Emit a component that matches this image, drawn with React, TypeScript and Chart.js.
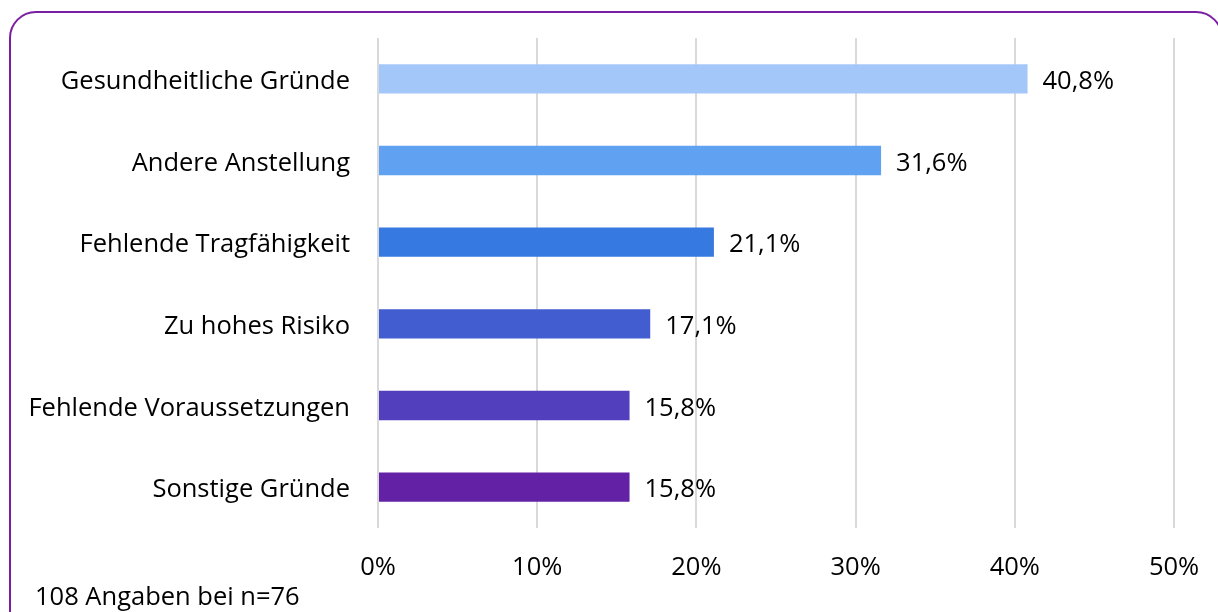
import React, { useEffect, useRef } from "react";
import { Chart, registerables } from "chart.js";

Chart.register(...registerables);

const categories = [
  "Gesundheitliche Gründe",
  "Andere Anstellung",
  "Fehlende Tragfähigkeit",
  "Zu hohes Risiko",
  "Fehlende Voraussetzungen",
  "Sonstige Gründe",
];
const values = [40.8, 31.6, 21.1, 17.1, 15.8, 15.8];
const barColors = ["#a4c7fa", "#60a1f2", "#3679e0", "#425dd0", "#523fbd", "#6322a6"];
const xTicks = [0, 10, 20, 30, 40, 50];
const footnote = "108 Angaben bei n=76";

const FONT = "'Open Sans', 'Noto Sans', sans-serif";
const FS = 25.5;

const decorPlugin = {
  id: "decor",
  beforeDraw(chart: any) {
    const ctx = chart.ctx;
    ctx.save();
    ctx.strokeStyle = "#7a1fa2";
    ctx.lineWidth = 2;
    ctx.beginPath();
    (ctx as any).roundRect(10, 12, 1212, 640, 26);
    ctx.stroke();
    ctx.restore();
  },
  afterDatasetsDraw(chart: any) {
    const ctx = chart.ctx;
    const meta = chart.getDatasetMeta(0);
    const yScale = chart.scales.y;
    ctx.save();
    ctx.font = `${FS}px ${FONT}`;
    ctx.fillStyle = "#000";
    ctx.textBaseline = "middle";
    meta.data.forEach((bar: any, i: number) => {
      const v = values[i];
      ctx.textAlign = "left";
      ctx.fillText(v.toFixed(1).replace(".", ",") + "%", bar.x + 15, bar.y + 3);
      ctx.textAlign = "right";
      ctx.fillText(categories[i], yScale.right - 28, yScale.getPixelForValue(i) + 3);
    });
    ctx.textAlign = "left";
    ctx.fillText(footnote, 35, 598);
    ctx.restore();
  },
};

export default function App() {
  const ref = useRef<HTMLCanvasElement>(null);
  useEffect(() => {
    if (!ref.current) return;
    const chart = new Chart(ref.current, {
      type: "bar",
      data: {
        labels: categories,
        datasets: [
          {
            data: values,
            backgroundColor: barColors,
            barPercentage: 0.36,
            categoryPercentage: 1,
          },
        ],
      },
      options: {
        indexAxis: "y",
        animation: false,
        responsive: false,
        maintainAspectRatio: false,
        layout: { padding: { top: 38, right: 44, bottom: 0, left: 0 } },
        plugins: { legend: { display: false }, tooltip: { enabled: false } },
        scales: {
          x: {
            min: 0,
            max: 50,
            afterBuildTicks(scale: any) {
              scale.ticks = xTicks.map((v) => ({ value: v }));
            },
            afterFit(scale: any) {
              scale.height = 84;
              scale.paddingLeft = 0;
              scale.paddingRight = 0;
            },
            ticks: {
              callback: (v: any) => v + "%",
              font: { family: FONT, size: FS },
              color: "#000",
              padding: 24,
              maxRotation: 0,
            },
            grid: { color: "#d9d9d9", lineWidth: 2, drawTicks: false },
            border: { display: false },
          },
          y: {
            afterFit(scale: any) {
              scale.width = 378;
              scale.paddingTop = 0;
              scale.paddingBottom = 0;
            },
            ticks: { display: false },
            grid: { display: false, drawTicks: false },
            border: { display: false },
          },
        },
      },
      plugins: [decorPlugin],
    });
    return () => chart.destroy();
  }, []);
  return (
    <div style={{ position: "fixed", left: 0, top: 0, width: 1218, height: 612, background: "#fff" }}>
      <canvas ref={ref} width={1218} height={612} style={{ width: 1218, height: 612, display: "block" }} />
    </div>
  );
}
